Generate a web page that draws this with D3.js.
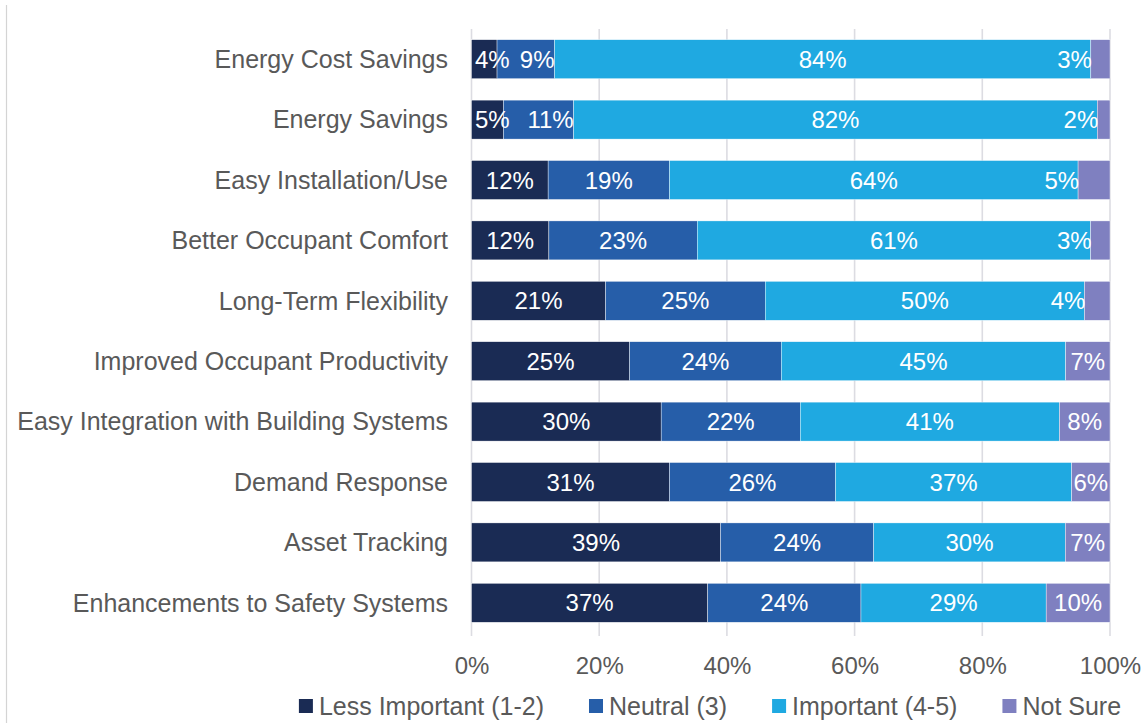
<!DOCTYPE html>
<html><head><meta charset="utf-8">
<script src="https://cdn.jsdelivr.net/npm/d3@7"></script>
<style>body{margin:0;background:#fff;} svg{display:block;font-family:"Liberation Sans",Arial,sans-serif;}</style>
</head><body>
<svg id="chart" width="1148" height="723"></svg>
<script>
const categories = ["Energy Cost Savings","Energy Savings","Easy Installation/Use","Better Occupant Comfort","Long-Term Flexibility","Improved Occupant Productivity","Easy Integration with Building Systems","Demand Response","Asset Tracking","Enhancements to Safety Systems"];
const seriesNames = ["Less Important (1-2)","Neutral (3)","Important (4-5)","Not Sure"];
const lessImportant = [4,5,12,12,21,25,30,31,39,37];
const neutral       = [9,11,19,23,25,24,22,26,24,24];
const important     = [84,82,64,61,50,45,41,37,30,29];
const notSure       = [3,2,5,3,4,7,8,6,7,10];
const tickValues = [0,0.2,0.4,0.6,0.8,1];
const colors = ["#1a2b54","#265ea9","#1fa9e1","#7f80c0"];

const series = [lessImportant, neutral, important, notSure];
const rows = categories.map((c,i)=>{
  const vals = series.map(s=>s[i]);
  const tot = d3.sum(vals);
  const o = {cat:c, total:tot};
  seriesNames.forEach((n,k)=>o[n]=vals[k]/tot);
  o.raw = vals;
  return o;
});

const svg = d3.select("#chart");
const x = d3.scaleLinear().domain([0,1]).range([471.5,1110]);
const y = d3.scaleBand().domain(categories).range([29,633]).paddingInner(0.355).paddingOuter(0.1775);

// left frame line
svg.append("line").attr("x1",6.5).attr("x2",6.5).attr("y1",5).attr("y2",723).attr("stroke","#d4d4d4").attr("stroke-width",1.2);

// gridlines
svg.append("g").selectAll("line").data(tickValues).join("line")
  .attr("x1",d=>x(d)).attr("x2",d=>x(d)).attr("y1",29).attr("y2",636)
  .attr("stroke","#dcdce2").attr("stroke-width",1.6);

const stack = d3.stack().keys(seriesNames)(rows);

const g = svg.append("g");
stack.forEach((layer,k)=>{
  g.append("g").selectAll("rect").data(layer).join("rect")
    .attr("x",d=>x(d[0])).attr("width",d=>x(d[1])-x(d[0]))
    .attr("y",d=>y(d.data.cat)).attr("height",y.bandwidth())
    .attr("fill",colors[k]).attr("stroke","#ffffff").attr("stroke-width",0.4);
});

// data labels
const fsLabel = 24;
const measure = svg.append("text").attr("font-size",fsLabel).attr("visibility","hidden");
function tw(t){measure.text(t);return measure.node().getComputedTextLength();}
const lg = svg.append("g").attr("fill","#ffffff").attr("font-size",fsLabel);
rows.forEach((r,i)=>{
  let prevNarrow=false;
  stack.forEach((layer,k)=>{
    const d = layer[i];
    const x0 = x(d[0]), x1 = x(d[1]);
    const txt = r.raw[k] + "%";
    const w = tw(txt);
    let anchor="middle", px=(x0+x1)/2;
    const narrow = (x1-x0) < w+2;
    if(narrow && k===0){anchor="start"; px=x0+3.5;}
    else if(narrow && k===seriesNames.length-1){anchor="end"; px=x0+1;}
    else if(prevNarrow && k===1){anchor="end"; px=x1;}
    prevNarrow = narrow;
    lg.append("text").attr("x",px).attr("y",y(r.cat)+y.bandwidth()/2).attr("dy","0.36em")
      .attr("text-anchor",anchor).text(txt);
  });
});

// category axis labels
svg.append("g").attr("fill","#595959").attr("font-size",25).selectAll("text").data(categories).join("text")
  .attr("x",448).attr("y",d=>y(d)+y.bandwidth()/2).attr("dy","0.35em").attr("text-anchor","end").text(d=>d);

// x axis
const xAxis = svg.append("g").attr("transform","translate(0,641)")
  .call(d3.axisBottom(x).tickValues(tickValues).tickFormat(d3.format(".0%")).tickSize(0).tickPadding(16));
xAxis.select(".domain").remove();
xAxis.selectAll("text").attr("fill","#595959").attr("font-size",24).attr("font-family","Liberation Sans, Arial, sans-serif");

// legend
const leg = svg.append("g").attr("font-size",25).attr("fill","#595959");
const mL = svg.append("text").attr("font-size",25).attr("visibility","hidden");
const widths = seriesNames.map(n=>{mL.text(n);return mL.node().getComputedTextLength();});
const sq=14, gapT=6, gapI=45;
const total = d3.sum(widths) + seriesNames.length*(sq+gapT) + (seriesNames.length-1)*gapI;
let cx = 710 - total/2;
seriesNames.forEach((n,k)=>{
  leg.append("rect").attr("x",cx).attr("y",699).attr("width",sq).attr("height",sq).attr("fill",colors[k]);
  leg.append("text").attr("x",cx+sq+gapT).attr("y",706).attr("dy","0.35em").text(n);
  cx += sq+gapT+widths[k]+gapI;
});
</script>
</body></html>
